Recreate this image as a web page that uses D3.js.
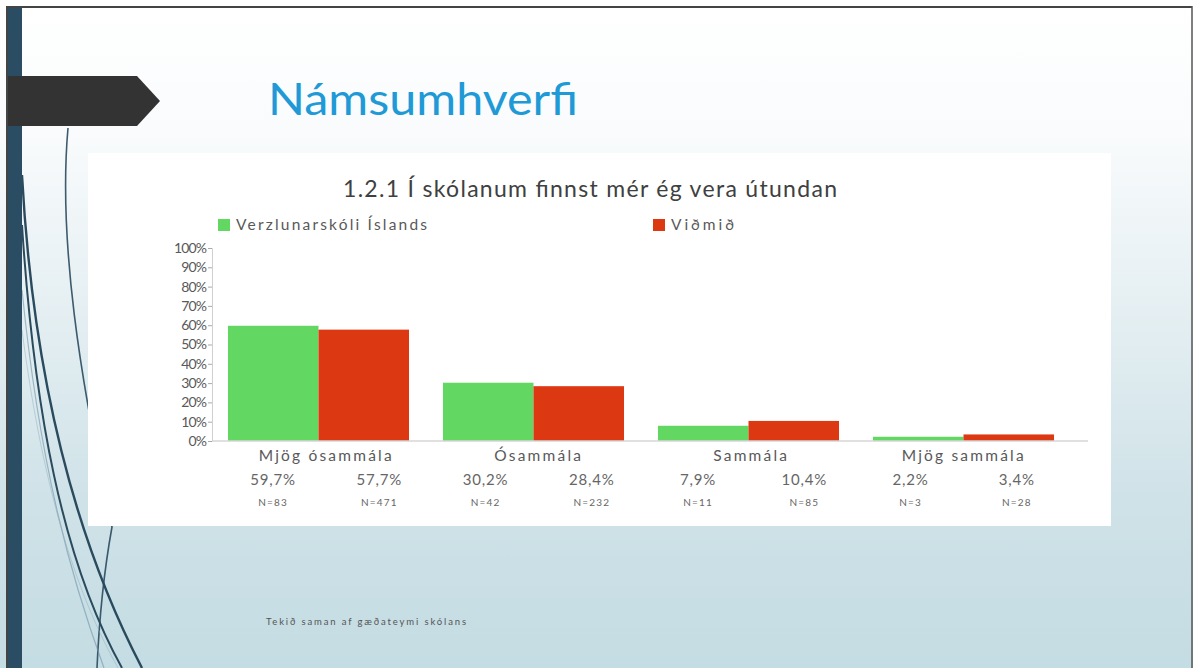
<!DOCTYPE html>
<html>
<head>
<meta charset="utf-8">
<script src="https://cdn.jsdelivr.net/npm/d3@7"></script>
<style>
  html, body { margin: 0; padding: 0; background: #fff; }
  svg { display: block; }
</style>
</head>
<body>
<svg id="slide" width="1193" height="668"></svg>
<script>
// ---- data ----
const slideTitle = "Námsumhverfi";
const chartTitle = "1.2.1 Í skólanum finnst mér ég vera útundan";
const categories = ["Mjög ósammála", "Ósammála", "Sammála", "Mjög sammála"];
const seriesNames = ["Verzlunarskóli Íslands", "Viðmið"];
const schoolValues = [59.7, 30.2, 7.9, 2.2];
const benchmarkValues = [57.7, 28.4, 10.4, 3.4];
const schoolN = [83, 42, 11, 3];
const benchmarkN = [471, 232, 85, 28];
const yTicks = [0, 10, 20, 30, 40, 50, 60, 70, 80, 90, 100];
const footerText = "Tekið saman af gæðateymi skólans";

const colors = ["#62d862", "#dc3913"];
const fontMain = "Lato, 'Open Sans', sans-serif";

const svg = d3.select("#slide");

// ---- slide background ----
const defs = svg.append("defs");
const grad = defs.append("linearGradient").attr("id", "bg").attr("x1", 0).attr("y1", 0).attr("x2", 0).attr("y2", 1);
grad.append("stop").attr("offset", "0%").attr("stop-color", "#ffffff");
grad.append("stop").attr("offset", "20%").attr("stop-color", "#f9fbfc");
grad.append("stop").attr("offset", "75%").attr("stop-color", "#cfe2e8");
grad.append("stop").attr("offset", "100%").attr("stop-color", "#c4dce3");
svg.append("rect").attr("x", 0).attr("y", 0).attr("width", 1193).attr("height", 668).attr("fill", "url(#bg)");

// decorative curves
const curves = [
  { d: "M22,175 C32,360 70,530 142,668", w: 2.4, c: "#2a4a5e", o: 1 },
  { d: "M22,225 C34,410 62,560 122,668", w: 2.0, c: "#2a4a5e", o: 1 },
  { d: "M68,128 C58,240 80,380 112,527 C106,560 100,600 97,668", w: 1.6, c: "#2a4a5e", o: 0.9 },
  { d: "M22,290 C40,470 72,580 104,668", w: 1.2, c: "#6f93a6", o: 0.6 },
  { d: "M22,330 C44,500 80,600 118,668", w: 1.0, c: "#8fb0bf", o: 0.5 }
];
svg.append("g").selectAll("path").data(curves).join("path")
  .attr("d", d => d.d).attr("fill", "none")
  .attr("stroke", d => d.c).attr("stroke-width", d => d.w).attr("opacity", d => d.o);

// left bar
svg.append("rect").attr("x", 8).attr("y", 8).attr("width", 14).attr("height", 660).attr("fill", "#2b4d63");
// arrow banner
svg.append("path").attr("d", "M8,76 L137,76 L160,101 L137,126 L8,126 Z").attr("fill", "#333333");
// frame
svg.append("line").attr("x1", 6).attr("x2", 1192).attr("y1", 7).attr("y2", 7).attr("stroke", "#444").attr("stroke-width", 2);
svg.append("line").attr("x1", 7).attr("x2", 7).attr("y1", 6).attr("y2", 668).attr("stroke", "#444").attr("stroke-width", 2);
svg.append("line").attr("x1", 1192).attr("x2", 1192).attr("y1", 6).attr("y2", 668).attr("stroke", "#555").attr("stroke-width", 1.5);

// slide title
svg.append("text").attr("x", 268).attr("y", 115)
  .attr("font-family", fontMain).attr("font-weight", 400).attr("font-size", 45).attr("fill", "#1f9ad6")
  .attr("textLength", 310).attr("lengthAdjust", "spacingAndGlyphs")
  .text(slideTitle);

// white chart panel
svg.append("rect").attr("x", 88).attr("y", 153).attr("width", 1023).attr("height", 373).attr("fill", "#ffffff");

// ---- chart ----
const y = d3.scaleLinear().domain([0, 100]).range([441, 248]);
const x0 = d3.scaleBand().domain(categories).range([211, 1071]).paddingInner(0.158).paddingOuter(0.079);
const x1 = d3.scaleBand().domain(seriesNames).range([0, x0.bandwidth()]).padding(0);
const cols = d3.scaleBand().domain(d3.range(8)).range([220, 1070]);

svg.append("text").attr("x", 343).attr("y", 197)
  .attr("font-family", fontMain).attr("font-size", 23).attr("fill", "#404040")
  .attr("textLength", 494).attr("lengthAdjust", "spacing")
  .text(chartTitle);

// legend
const legendX = [218, 653];
const legendLen = [191, 63];
const lg = svg.append("g").selectAll("g").data(seriesNames).join("g")
  .attr("transform", (d, i) => `translate(${legendX[i]},219)`);
lg.append("rect").attr("width", 12).attr("height", 12).attr("fill", (d, i) => colors[i]);
lg.append("text").attr("x", 18).attr("y", 6).attr("dy", "0.35em")
  .attr("font-family", fontMain).attr("font-size", 15.5).attr("fill", "#595959")
  .attr("textLength", (d, i) => legendLen[i]).attr("lengthAdjust", "spacing").text(d => d);

// y axis
const yAxis = svg.append("g").attr("transform", "translate(212,0)")
  .call(d3.axisLeft(y).tickValues(yTicks).tickFormat(d => d + "%").tickSize(4).tickPadding(2));
yAxis.select(".domain").attr("stroke", "#d0d0d0");
yAxis.selectAll(".tick line").attr("stroke", "#aaa");
yAxis.selectAll(".tick text").attr("font-family", fontMain).attr("font-size", 14)
  .attr("fill", "#595959").attr("letter-spacing", -0.9);

// bars
const seriesValues = [schoolValues, benchmarkValues];
const barData = [];
categories.forEach((c, ci) => seriesNames.forEach((s, si) => barData.push({ c, s, si, v: seriesValues[si][ci] })));
svg.append("g").selectAll("rect").data(barData).join("rect")
  .attr("x", d => x0(d.c) + x1(d.s))
  .attr("width", x1.bandwidth())
  .attr("y", d => y(d.v))
  .attr("height", d => y(0) - y(d.v))
  .attr("fill", d => colors[d.si]);

// baseline
svg.append("line").attr("x1", 212).attr("x2", 1088).attr("y1", y(0)).attr("y2", y(0))
  .attr("stroke", "#d6d6d6").attr("stroke-width", 1.5);

// category labels (table)
svg.append("g").selectAll("text").data(categories).join("text")
  .attr("x", (d, i) => (cols(2 * i) + cols(2 * i + 1)) / 2 + cols.bandwidth() / 2)
  .attr("y", 456).attr("dy", "0.35em").attr("text-anchor", "middle")
  .attr("font-family", fontMain).attr("font-size", 15.5).attr("fill", "#595959")
  .attr("letter-spacing", 2.2).text(d => d);

const fmt = v => d3.format(".1f")(v).replace(".", ",") + "%";
const cellData = [];
categories.forEach((c, ci) => seriesNames.forEach((s, si) => cellData.push({
  col: 2 * ci + si, v: seriesValues[si][ci], n: [schoolN, benchmarkN][si][ci]
})));
svg.append("g").selectAll("text").data(cellData).join("text")
  .attr("x", d => cols(d.col) + cols.bandwidth() / 2)
  .attr("y", 480).attr("dy", "0.35em").attr("text-anchor", "middle")
  .attr("font-family", fontMain).attr("font-size", 15).attr("fill", "#666")
  .attr("letter-spacing", 0.8)
  .text(d => fmt(d.v));
svg.append("g").selectAll("text").data(cellData).join("text")
  .attr("x", d => cols(d.col) + cols.bandwidth() / 2)
  .attr("y", 502).attr("dy", "0.35em").attr("text-anchor", "middle")
  .attr("font-family", fontMain).attr("font-size", 10).attr("fill", "#666")
  .attr("letter-spacing", 1.2)
  .text(d => "N=" + d.n);

// footer
svg.append("text").attr("x", 266).attr("y", 625)
  .attr("font-family", fontMain).attr("font-size", 9.5).attr("fill", "#555")
  .attr("textLength", 200).attr("lengthAdjust", "spacing")
  .text(footerText);
</script>
</body>
</html>
